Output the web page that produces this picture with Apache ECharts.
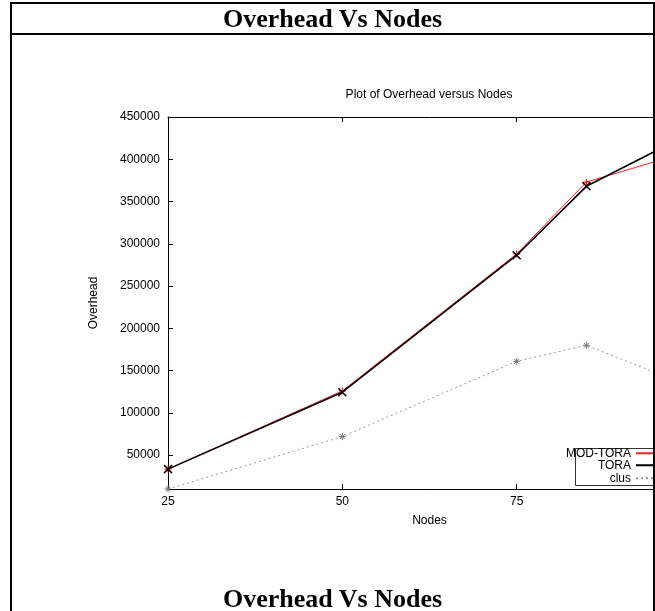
<!DOCTYPE html>
<html>
<head>
<meta charset="utf-8">
<script src="https://cdn.jsdelivr.net/npm/echarts@6/dist/echarts.min.js"></script>
<style>
    body { margin: 0; background: #fff; }
    #frame {
        position: absolute; left: 10px; top: 2px; width: 641px; height: 620px;
        border-left: 2px solid #000; border-top: 2px solid #000; border-right: 2px solid #000;
    }
    .cap {
        position: absolute; left: 0; width: 641px; text-align: center;
        font-family: "Liberation Serif", serif; font-weight: bold; font-size: 26px; color: #000;
    }
    #head { top: 0; height: 29px; line-height: 29px; border-bottom: 2px solid #000; }
    #foot { top: 581px; height: 28px; line-height: 28px; }
    #wrap { position: absolute; left: 12px; top: 35px; width: 641px; height: 576px; overflow: hidden; }
    #chart { position: absolute; left: -12px; top: -35px; width: 858px; height: 611px; }
</style>
</head>
<body>
<div id="wrap"><div id="chart"></div></div>
<div id="frame">
    <div class="cap" id="head">Overhead Vs Nodes</div>
    <div class="cap" id="foot">Overhead Vs Nodes</div>
</div>
<script>
// nodes on the x axis
let nodes = [25, 50, 75, 85, 100];

// overhead per protocol
let modTora = [33500, 126000, 288000, 373000, 410000];
let tora = [33500, 124500, 286500, 368000, 431000];
let clus = [10000, 72000, 161000, 180000, 131000];

let yTicks = [50000, 100000, 150000, 200000, 250000, 300000, 350000, 400000, 450000];

function pairs(values) {
    return nodes.map((n, i) => [n, values[i]]);
}

let font = 'Liberation Sans';
let plusPath = 'path://M0,5L10,5M5,0L5,10';
let crossPath = 'path://M0,0L10,10M10,0L0,10';
let starPath = 'path://M0,5L10,5M5,0L5,10M1.5,1.5L8.5,8.5M8.5,1.5L1.5,8.5';

// one legend per entry so the texts line up on the right, like gnuplot
function legendFor(name, top) {
    return {
        data: [name],
        orient: 'vertical',
        align: 'right',
        right: 171,
        top: top,
        padding: 0,
        itemWidth: 50,
        itemHeight: 12,
        selectedMode: false,
        textStyle: { fontFamily: font, fontSize: 12, color: '#000' }
    };
}

let option = {
    animation: false,
    title: {
        text: 'Plot of Overhead versus Nodes',
        left: 'center',
        top: 84,
        textStyle: { fontFamily: font, fontSize: 12, fontWeight: 'normal', color: '#000' }
    },
    legend: [
        legendFor('MOD-TORA', 446),
        legendFor('TORA', 458),
        legendFor('clus', 471)
    ],
    graphic: [{
        type: 'rect',
        left: 573, top: 446,
        shape: { width: 200, height: 37 },
        style: { fill: 'none', stroke: '#333', lineWidth: 1 },
        z: 0
    }],
    grid: {
        left: 168, top: 117, width: 523, height: 372,
        containLabel: false,
        outerBoundsMode: 'none'
    },
    xAxis: [{
        type: 'value',
        min: 25, max: 100, interval: 25,
        name: 'Nodes',
        nameLocation: 'middle',
        nameGap: 26,
        nameTextStyle: { fontFamily: font, fontSize: 12, color: '#000' },
        axisLine: { lineStyle: { color: '#000', width: 1 } },
        axisTick: { inside: true, length: 5, lineStyle: { color: '#000' } },
        axisLabel: { fontFamily: font, fontSize: 12, color: '#000', margin: 7 },
        splitLine: { show: false }
    }, {
        type: 'value',
        position: 'top',
        min: 25, max: 100, interval: 25,
        axisLine: { lineStyle: { color: '#000', width: 1 } },
        axisTick: { inside: true, length: 5, lineStyle: { color: '#000' } },
        axisLabel: { show: false },
        splitLine: { show: false }
    }],
    yAxis: {
        type: 'value',
        min: 10000, max: 450000,
        name: 'Overhead',
        nameLocation: 'middle',
        nameGap: 68,
        nameRotate: 90,
        nameTextStyle: { fontFamily: font, fontSize: 12, color: '#000' },
        axisLine: { show: true, lineStyle: { color: '#000', width: 1 } },
        axisTick: { show: true, inside: true, length: 5, customValues: yTicks, lineStyle: { color: '#000' } },
        axisLabel: {
            fontFamily: font, fontSize: 12, color: '#000', margin: 8,
            customValues: yTicks,
            formatter: v => String(v)
        },
        splitLine: { show: false }
    },
    series: [
        {
            name: 'MOD-TORA',
            type: 'line',
            data: pairs(modTora),
            symbol: plusPath,
            symbolSize: 7,
            lineStyle: { color: '#ff2020', width: 1 },
            itemStyle: { color: 'none', borderColor: '#ff0000', borderWidth: 1 },
            z: 2
        },
        {
            name: 'TORA',
            type: 'line',
            data: pairs(tora),
            symbol: crossPath,
            symbolSize: 8,
            lineStyle: { color: '#000', width: 1.6 },
            itemStyle: { color: 'none', borderColor: '#000', borderWidth: 1.5 },
            z: 3
        },
        {
            name: 'clus',
            type: 'line',
            data: pairs(clus),
            symbol: starPath,
            symbolSize: 7,
            lineStyle: { color: '#999', width: 1, type: [2, 3] },
            itemStyle: { color: 'none', borderColor: '#777', borderWidth: 1 },
            z: 1
        }
    ]
};

let chart = echarts.init(document.getElementById('chart'));
chart.setOption(option);
</script>
</body>
</html>
